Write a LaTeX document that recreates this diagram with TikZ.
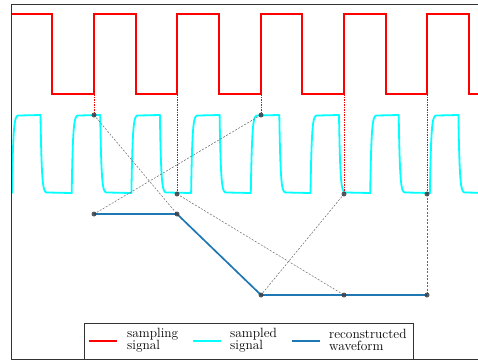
\documentclass[tikz,border=0pt]{standalone}
\usepackage{xcolor}
\definecolor{mplblue}{RGB}{31,119,180}
\definecolor{dotgray}{RGB}{58,63,68}
\definecolor{sigred}{RGB}{255,0,0}
\definecolor{sigcyan}{RGB}{0,255,255}
\begin{document}
\begin{tikzpicture}[x=1pt,y=-1pt,
  redsig/.style={sigred,line width=1.7pt,line join=miter},
  cyansig/.style={sigcyan,line width=1.8pt,line cap=round,line join=round},
  recon/.style={mplblue,line width=1.7pt},
  reddash/.style={sigred,line width=0.9pt,dash pattern=on 1.5pt off 1pt},
  graydash/.style={black!60,line width=0.5pt,dash pattern=on 2pt off 1.5pt},
  dot/.style={circle,fill=dotgray,fill opacity=0.85,inner sep=0pt,minimum size=5pt},
  frame/.style={black!80,line width=0.9pt},
  legtext/.style={align=left,anchor=west,inner sep=0pt,font=\fontsize{13.4}{12.5}\selectfont}]
\useasboundingbox (0,0) rectangle (478,362);
\begin{scope}
\clip (11,4) rectangle (478,359);
\draw[redsig] (11,14) -- (52,14) -- (52,94) -- (94,94) -- (94,14) -- (136,14) -- (136,94)
  -- (177,94) -- (177,14) -- (219,14) -- (219,94) -- (261,94) -- (261,14) -- (302,14)
  -- (302,94) -- (344,94) -- (344,14) -- (386,14) -- (386,94) -- (427,94) -- (427,14)
  -- (469,14) -- (469,94) -- (490,94);
\foreach \k in {0,...,8} {
  \pgfmathsetmacro\rr{12+59.7*\k}
  \pgfmathsetmacro\re{\rr+6}
  \pgfmathsetmacro\ff{40.5+59.7*\k}
  \pgfmathsetmacro\fe{\ff+6}
  \pgfmathsetmacro\nn{12+59.7*(\k+1)}
  \draw[cyansig] plot[domain=\rr:\re,samples=30] (\x,{115+78*exp(-(\x-\rr)/1.2)})
    -- (\ff,115) -- plot[domain=\ff:\fe,samples=30] (\x,{193-78*exp(-(\x-\ff)/1.2)})
    -- (\nn,193);
}
\end{scope}
% sample and reconstruction points
\coordinate (e1) at (94,94);
\coordinate (e2) at (177,94);
\coordinate (e3) at (261,94);
\coordinate (e4) at (344,94);
\coordinate (e5) at (427,94);
\coordinate (s1) at (94,115);
\coordinate (s2) at (177,194);
\coordinate (s3) at (261,115);
\coordinate (s4) at (344,194);
\coordinate (s5) at (427,194);
\coordinate (q1) at (94,214);
\coordinate (q2) at (177,214);
\coordinate (q3) at (261,295);
\coordinate (q4) at (344,295);
\coordinate (q5) at (427,295);
\foreach \i in {1,...,5} { \draw[reddash] (e\i) -- (s\i); }
\draw[graydash] (s1) -- (q2);
\draw[graydash] (s3) -- (q1);
\draw[graydash] (s2) -- (q4);
\draw[graydash] (s4) -- (q3);
\draw[graydash] (s5) -- (q5);
\draw[recon] (q1) -- (q2) -- (q3) -- (q4) -- (q5);
\foreach \i in {1,...,5} {
  \node[dot] (ds\i) at (s\i) {};
  \node[dot] (dq\i) at (q\i) {};
}
% legend
\draw[frame,fill=white] (84,323) rectangle (413,359);
\coordinate (la1) at (89,341);  \coordinate (lb1) at (117,341);
\coordinate (la2) at (193,341); \coordinate (lb2) at (221,341);
\coordinate (la3) at (292,341); \coordinate (lb3) at (320,341);
\draw[redsig] (la1) -- (lb1);
\draw[sigcyan,line width=1.8pt] (la2) -- (lb2);
\draw[recon] (la3) -- (lb3);
\node[legtext] (t1) at (127,340) {sampling\\signal};
\node[legtext] (t2) at (230,340) {sampled\\signal};
\node[legtext] (t3) at (329,340) {reconstructed\\waveform};
% frame
\draw[frame] (490,4) -- (11,4) -- (11,359) -- (490,359);
\end{tikzpicture}
\end{document}
